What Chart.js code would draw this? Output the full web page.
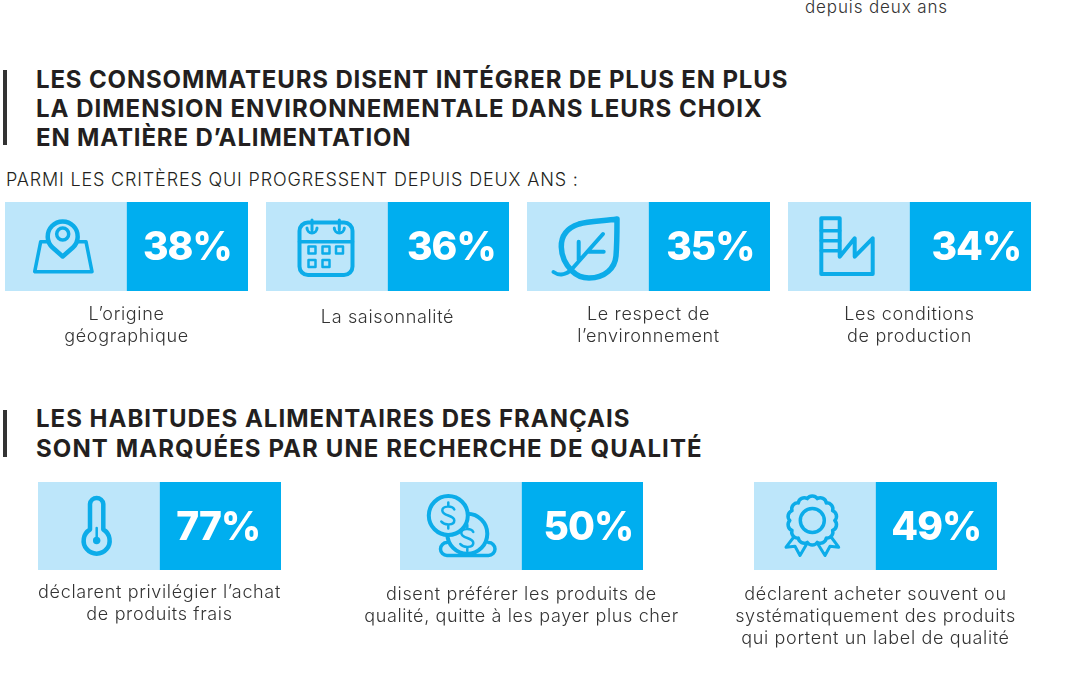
<!DOCTYPE html>
<html lang="fr">
<head>
<meta charset="utf-8">
<title>Alimentation</title>
<script src="https://cdn.jsdelivr.net/npm/chart.js@4/dist/chart.umd.min.js"></script>
<style>
  html, body { margin: 0; padding: 0; background: #fff; overflow: hidden; }
  #page { position: relative; width: 1080px; height: 675px; overflow: hidden; font-family: Inter, sans-serif; color: #231f20; }
  #page canvas { position: absolute; }
  .txt { position: absolute; white-space: nowrap; }
  .title { font-weight: 700; font-size: 24px; line-height: 29px; }
  .rule { position: absolute; left: 3px; width: 4px; background: #333; }
</style>
</head>
<body>
<div id="page">
  <div class="txt" style="left:805px; top:-3px; font-size:17px; line-height:20px; letter-spacing:.87px; font-weight:300; color:#333;">depuis deux ans</div>

  <div class="rule" style="top:70px; height:75px;"></div>
  <div class="txt title" style="left:36px; top:65px; letter-spacing:.85px;">
    <div>LES CONSOMMATEURS DISENT INTÉGRER DE PLUS EN PLUS</div>
    <div style="letter-spacing:1px;">LA DIMENSION ENVIRONNEMENTALE DANS LEURS CHOIX</div>
    <div>EN MATIÈRE D’ALIMENTATION</div>
  </div>
  <div class="txt" style="left:6px; top:169px; font-size:18px; line-height:22px; font-weight:300; letter-spacing:.83px;">PARMI LES CRITÈRES QUI PROGRESSENT DEPUIS DEUX ANS :</div>

  <div class="rule" style="top:410px; height:47px;"></div>
  <div class="txt title" style="left:36px; top:404px; line-height:30px; letter-spacing:1px;">
    <div>LES HABITUDES ALIMENTAIRES DES FRANÇAIS</div>
    <div style="letter-spacing:1.1px;">SONT MARQUÉES PAR UNE RECHERCHE DE QUALITÉ</div>
  </div>
</div>

<script>
// data
const topCategories = [
  ["L’origine", "géographique"],
  ["La saisonnalité"],
  ["Le respect de", "l’environnement"],
  ["Les conditions", "de production"]
];
const topValues = [38, 36, 35, 34];

const bottomCategories = [
  ["déclarent privilégier l’achat", "de produits frais"],
  ["disent préférer les produits de", "qualité, quitte à les payer plus cher"],
  ["déclarent acheter souvent ou", "systématiquement des produits", "qui portent un label de qualité"]
];
const bottomValues = [77, 50, 49];

// layout, one entry per tile
const topLefts = [5, 266, 527, 788];
const bottomLefts = [38, 400, 754];
const topPads = [13, 16, 13, 13];
const bottomPads = [12, 14, 14];
const topShifts = [0, 3, 1, 6];
const bottomShifts = [-2, 6, 0];

const LIGHT = "#bde6fa";
const DARK = "#00aeef";
const ICON = "#0cace9";
const CANVAS_W = 361;
const TILE_W = 243;
const LABEL_H = 85;

// pictograms, in pixels from the top left corner of a tile
function rosette() {
  let d = "";
  const n = 14;
  for (let i = 0; i <= n; i++) {
    const a = i * 2 * Math.PI / n;
    const x = (58.3 + 22.5 * Math.cos(a)).toFixed(1);
    const y = (38.5 + 22.5 * Math.sin(a)).toFixed(1);
    d += (i ? "A6 6 0 0 1 " : "M") + x + " " + y + " ";
  }
  return d;
}
function dollar(cx, cy) {
  const p = (x, y) => (cx + x) + " " + (cy + y);
  return "M" + p(6, -6) + " C" + p(4, -10) + " " + p(-6, -10) + " " + p(-6, -5) +
    " C" + p(-6, 1) + " " + p(6, -1) + " " + p(6, 5) +
    " C" + p(6, 10) + " " + p(-4, 10) + " " + p(-7, 6) +
    " M" + p(0, -13) + " L" + p(0, -9) + " M" + p(0, 9) + " L" + p(0, 13);
}
const circle = (cx, cy, r) => "M" + (cx - r) + " " + cy + " a" + r + " " + r + " 0 1 0 " + (2 * r) + " 0 a" + r + " " + r + " 0 1 0 " + (-2 * r) + " 0 Z";

const icons = {
  map: [
    { d: "M35.7 39.7 L29.7 69.7 L87 69.7 L81 39.7 Z", w: 3.5 },
    { d: "M57.7 54.5 L47.5 45.5 A15 15 0 1 1 67.9 45.5 Z", w: 4.5, fill: true },
    { d: circle(57.7, 32, 6), w: 3.5 }
  ],
  calendar: [
    { d: "M42 20.5 L78 20.5 A8.5 8.5 0 0 1 86.5 29 L86.5 64.5 A8.5 8.5 0 0 1 78 73 L42 73 A8.5 8.5 0 0 1 33.5 64.5 L33.5 29 A8.5 8.5 0 0 1 42 20.5 Z", w: 4 },
    { d: "M33.5 39.7 L86.5 39.7", w: 3.5 },
    { d: "M46 18 L46 28 M73.3 18 L73.3 28 M41 26 A5 5 0 0 0 51 26 M68.3 26 A5 5 0 0 0 78.3 26", w: 3 },
    { d: "M42.5 44.5 h7 v7 h-7 Z M56.5 44.5 h7 v7 h-7 Z M70 44.5 h7 v7 h-7 Z M42.5 58 h7 v7 h-7 Z M56.5 58 h7 v7 h-7 Z", w: 2.5 }
  ],
  leaf: [
    { d: "M90 17 C78 19 62 19 52 22 C40 26 34 34 34.3 45 C34.5 55 38 62 45 69 C50 74 56 76 62 76 C78 76 88 66 89 54 C90 42 90 28 90 17 Z", w: 5.5 },
    { d: "M26.5 70 C32 74 39 73 45 67 L76 32 M51.7 39.7 L51.7 58 M61.7 49.7 L76.7 49.7", w: 4 }
  ],
  factory: [
    { d: "M33.3 16.3 L51.7 16.3 L51.7 54.7 L66.7 36.3 L66.7 54.7 L84.7 36.3 L84.7 72 L33.3 72 Z", w: 4 },
    { d: "M33.3 28.7 L51.7 28.7 M33.3 38.7 L51.7 38.7 M33.3 48.7 L51.7 48.7", w: 3.5 }
  ],
  thermo: [
    { d: "M52 22 A6.7 6.7 0 0 1 65.3 22 L65.3 47.5 A13 13 0 1 1 52 47.5 Z", w: 4.5 },
    { d: "M58.7 46 L58.7 58", w: 2.5 },
    { d: circle(58.7, 58.5, 2.5), w: 2.5, fillIcon: true }
  ],
  coins: [
    { d: "M47 60.5 A6.5 6.5 0 0 0 47 73.5 L88.5 73.5 A6.5 6.5 0 0 0 88.5 60.5", w: 3.5 },
    { d: circle(67.3, 51.8, 20), w: 4, fill: true },
    { d: dollar(67.3, 56), w: 2.5 },
    { d: circle(48.3, 33.5, 19.5), w: 4, fill: true },
    { d: dollar(48.3, 33.5), w: 2.5 }
  ],
  rosette: [
    { d: "M41 53.5 L32 65.2 L41 64.2 L46 73.5 L52.7 62 M76 53.5 L84.7 65.2 L76 64.2 L71 73.5 L63.7 61.8", w: 3 },
    { d: rosette(), w: 3.5, fill: true },
    { d: circle(58.3, 38.5, 12), w: 3.5 }
  ]
};
const topIcons = ["map", "calendar", "leaf", "factory"];
const bottomIcons = ["thermo", "coins", "rosette"];

// draws the pictogram and the percentage on top of the two panels
const tilePlugin = {
  id: "tile",
  beforeDraw(chart) {
    // tick labels have no spacing option, the context keeps it
    chart.ctx.letterSpacing = "0.65px";
  },
  afterDatasetsDraw(chart, args, opts) {
    const ctx = chart.ctx;
    const left = chart.getDatasetMeta(0).data[0];
    const right = chart.getDatasetMeta(1).data[0];
    const x0 = left.x - left.width / 2;
    const y0 = left.y;

    ctx.save();
    ctx.translate(x0, y0);
    ctx.lineJoin = "round";
    ctx.lineCap = "round";
    ctx.strokeStyle = ICON;
    icons[opts.icon].forEach(part => {
      const path = new Path2D(part.d);
      if (part.fill) { ctx.fillStyle = LIGHT; ctx.fill(path); }
      if (part.fillIcon) { ctx.fillStyle = ICON; ctx.fill(path); }
      ctx.lineWidth = part.w;
      ctx.stroke(path);
    });
    ctx.restore();

    ctx.save();
    ctx.fillStyle = "#fff";
    ctx.font = "800 39px Inter";
    ctx.letterSpacing = "-1px";
    ctx.textAlign = "center";
    ctx.textBaseline = "alphabetic";
    ctx.fillText(chart.data.datasets[1].data[0] + "%", right.x + opts.shift, (right.y + right.base) / 2 + 13.5);
    ctx.restore();
  }
};

function drawTile(category, value, left, top, height, pad, shift, icon) {
  const canvas = document.createElement("canvas");
  canvas.width = CANVAS_W;
  canvas.height = height + LABEL_H;
  canvas.style.left = (left + TILE_W / 2 - CANVAS_W / 2) + "px";
  canvas.style.top = top + "px";
  document.getElementById("page").appendChild(canvas);

  new Chart(canvas, {
    type: "bar",
    data: {
      labels: [category],
      datasets: [
        { data: [value], backgroundColor: LIGHT },
        { data: [value], backgroundColor: DARK }
      ]
    },
    options: {
      responsive: false,
      animation: false,
      events: [],
      categoryPercentage: TILE_W / CANVAS_W,
      barPercentage: 1,
      layout: { padding: 0 },
      plugins: {
        legend: { display: false },
        tooltip: { enabled: false },
        tile: { icon: icon, shift: shift }
      },
      scales: {
        x: {
          grid: { display: false, drawTicks: false },
          border: { display: false },
          ticks: {
            padding: pad,
            maxRotation: 0,
            autoSkip: false,
            color: "#333",
            font: { family: "Inter", size: 18, weight: "300", lineHeight: "22px" }
          },
          afterFit(scale) { scale.height = LABEL_H; }
        },
        y: { display: false, min: 0, max: value }
      }
    },
    plugins: [tilePlugin]
  });
}

topValues.forEach((v, i) => drawTile(topCategories[i], v, topLefts[i], 202, 89, topPads[i], topShifts[i], topIcons[i]));
bottomValues.forEach((v, i) => drawTile(bottomCategories[i], v, bottomLefts[i], 482, 88, bottomPads[i], bottomShifts[i], bottomIcons[i]));
</script>
</body>
</html>
